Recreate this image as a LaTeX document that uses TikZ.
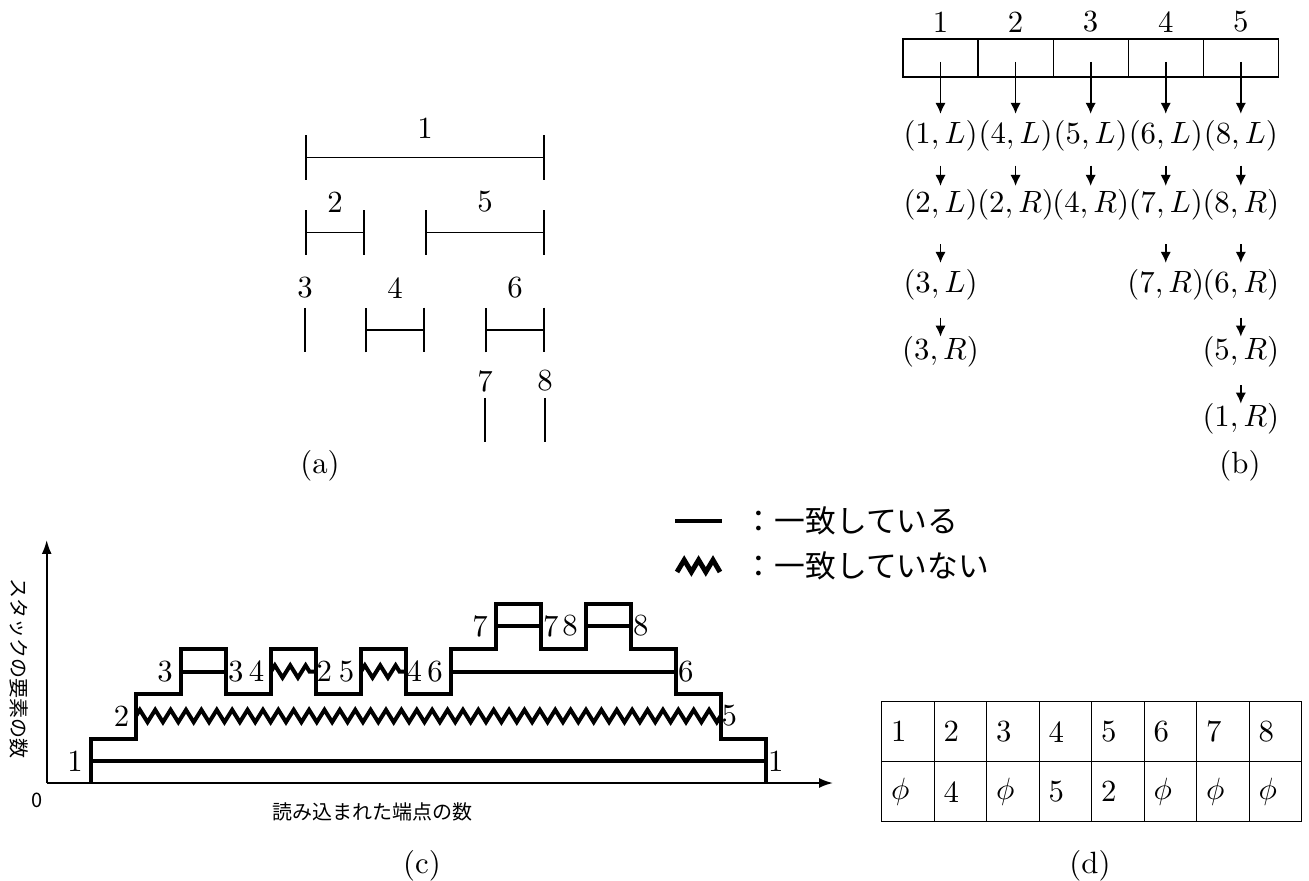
\documentclass[tikz,border=0pt]{standalone}
\usepackage{fontspec}
\newfontfamily\jpfont{Noto Sans CJK JP}
\usetikzlibrary{arrows.meta,positioning,decorations.pathmorphing}

\begin{document}
\begin{tikzpicture}[x=0.325pt, y=-0.325pt,
  seg/.style={{Bar[width=14.6pt]}-{Bar[width=14.6pt]}, line width=0.5pt},
  tickmark/.style={line width=0.5pt},
  cell/.style={draw, minimum width=24.4pt, minimum height=12.35pt,
    inner sep=0pt, outer sep=0pt},
  pair/.style={inner sep=2pt},
  arr/.style={-{Latex[length=3.6pt,width=3.4pt]}, line width=0.55pt},
  stack/.style={line width=1.3pt},
  match/.style={line width=1.3pt},
  nomatch/.style={line width=1.3pt, decorate,
    decoration={zigzag, segment length=5pt, amplitude=2pt}},
  axis/.style={-{Latex[length=4.5pt,width=3.2pt]}, line width=0.6pt},
  jp/.style={font=\jpfont},
  smalljp/.style={font=\jpfont\fontsize{6.5}{8}\selectfont},
  tcell/.style={draw, minimum width=17.06pt, minimum height=19.5pt,
    text width=11pt, align=left, inner xsep=3pt, inner ysep=0pt,
    outer sep=0pt},
  lbll/.style={left, inner sep=2pt},
  lblr/.style={right, inner sep=0pt}]
\useasboundingbox (0,0) rectangle (1309,881);

% (a) intervals
\draw[seg] (305,157.5) -- (545,157.5);
\node (a1) at (425,128) {1};
\draw[seg] (305,232.5) -- (365,232.5);
\node (a2) at (335,202) {2};
\draw[seg] (425,232.5) -- (545,232.5);
\node (a5) at (485,202) {5};
\draw[tickmark] (305,308) -- (305,352);
\node (a3) at (305,288) {3};
\draw[seg] (365,330) -- (425,330);
\node (a4) at (395,288) {4};
\draw[seg] (485,330) -- (545,330);
\node (a6) at (515,288) {6};
\draw[tickmark] (485,398) -- (485,442);
\node (a7) at (485,381) {7};
\draw[tickmark] (545,398) -- (545,442);
\node (a8) at (545,381) {8};
\node (capa) at (320,466) {(a)};

% (b) lists
\node[cell] (c1) at (940.5,58) {};
\node[cell, right=0pt of c1] (c2) {};
\node[cell, right=0pt of c2] (c3) {};
\node[cell, right=0pt of c3] (c4) {};
\node[cell, right=0pt of c4] (c5) {};
\node[above=2pt of c1, inner sep=0pt] (h1) {1};
\node[above=2pt of c2, inner sep=0pt] (h2) {2};
\node[above=2pt of c3, inner sep=0pt] (h3) {3};
\node[above=2pt of c4, inner sep=0pt] (h4) {4};
\node[above=2pt of c5, inner sep=0pt] (h5) {5};
\node[pair] (p11) at (c1 |- 0,136) {$(1,L)$};
\node[pair] (p12) at (c2 |- 0,136) {$(4,L)$};
\node[pair] (p13) at (c3 |- 0,136) {$(5,L)$};
\node[pair] (p14) at (c4 |- 0,136) {$(6,L)$};
\node[pair] (p15) at (c5 |- 0,136) {$(8,L)$};
\node[pair] (p21) at (c1 |- 0,205) {$(2,L)$};
\node[pair] (p22) at (c2 |- 0,205) {$(2,R)$};
\node[pair] (p23) at (c3 |- 0,205) {$(4,R)$};
\node[pair] (p24) at (c4 |- 0,205) {$(7,L)$};
\node[pair] (p25) at (c5 |- 0,205) {$(8,R)$};
\node[pair] (p31) at (c1 |- 0,285) {$(3,L)$};
\node[pair] (p34) at (c4 |- 0,285) {$(7,R)$};
\node[pair] (p35) at (c5 |- 0,285) {$(6,R)$};
\node[pair] (p41) at (c1 |- 0,352) {$(3,R)$};
\node[pair] (p45) at (c5 |- 0,352) {$(5,R)$};
\node[pair] (p55) at (c5 |- 0,419) {$(1,R)$};
\draw[arr, shorten <=1.3pt] (c1.center) -- (p11);
\draw[arr, shorten <=1.3pt] (c2.center) -- (p12);
\draw[arr, shorten <=1.3pt] (c3.center) -- (p13);
\draw[arr, shorten <=1.3pt] (c4.center) -- (p14);
\draw[arr, shorten <=1.3pt] (c5.center) -- (p15);
\draw[arr, shorten <=2.4pt, shorten >=-1pt] (p11) -- (p21);
\draw[arr, shorten <=2.4pt, shorten >=-1pt] (p12) -- (p22);
\draw[arr, shorten <=2.4pt, shorten >=-1pt] (p13) -- (p23);
\draw[arr, shorten <=2.4pt, shorten >=-1pt] (p14) -- (p24);
\draw[arr, shorten <=2.4pt, shorten >=-1pt] (p15) -- (p25);
\draw[arr, shorten <=5.5pt] (p21) -- (p31);
\draw[arr, shorten <=5.5pt] (p24) -- (p34);
\draw[arr, shorten <=5.5pt] (p25) -- (p35);
\draw[arr, shorten <=3.4pt, shorten >=-2.2pt] (p31) -- (p41);
\draw[arr, shorten <=3.4pt, shorten >=-2.2pt] (p35) -- (p45);
\draw[arr, shorten <=3.6pt, shorten >=-2.2pt] (p45) -- (p55);
\node (capb) at (1240,466) {(b)};

% legend
\coordinate (ka) at (675,521);
\coordinate (kb) at (722,521);
\draw[match, line width=1.6pt] (ka) -- (kb);
\node[jp, anchor=west] (k1) at (733,521) {：一致している};
\coordinate (kc) at (677,572);
\coordinate (kd) at (720,572);
\draw[line width=1.6pt] (kc) -- ++(7.2,-12) -- ++(7.2,12) -- ++(7.2,-12)
  -- ++(7.2,12) -- ++(7.2,-12) -- (kd);
\node[jp, anchor=west] (k2) at (733,566) {：一致していない};

% (c) stack size
\coordinate (o) at (46.7,783);
\draw[axis] (o) -- (46.7,540);
\draw[axis] (o) -- (833,783);
\node[smalljp] (zero) at (37,800) {0};
\node[smalljp] (xlab) at (372,812) {読み込まれた端点の数};
\node[smalljp, rotate=-90] (ylab) at (19,668) {スタックの要素の数};
\draw[stack] (91,783) |- (136,739) |- (181,694) |- (226,649) |- (271,694)
  |- (316,649) |- (361,694) |- (406,649) |- (451,694) |- (496,649)
  |- (541,604) |- (586,649) |- (631,604) |- (676,649) |- (721,694)
  |- (766,739) -- (766,783);
\draw[match] (91,761) node[lbll] (m1a) {1} -- (766,761) node[lblr] (m1b) {1};
\draw[nomatch] (136,716) -- (721,716);
\node[lbll] (m2a) at (136,716) {2};
\node[lblr] (m2b) at (721,716) {5};
\draw[match] (181,671.5) node[lbll] (m3a) {3} -- (226,671.5) node[lblr] (m3b) {3};
\draw[nomatch] (271,671.5) -- (316,671.5);
\node[lbll] (m4a) at (271,671.5) {4};
\node[lblr] (m4b) at (316,671.5) {2};
\draw[nomatch] (361,671.5) -- (406,671.5);
\node[lbll] (m5a) at (361,671.5) {5};
\node[lblr] (m5b) at (406,671.5) {4};
\draw[match] (451,671.5) node[lbll] (m6a) {6} -- (676,671.5) node[lblr] (m6b) {6};
\draw[match] (496,626) node[lbll] (m7a) {7} -- (541,626) node[lblr] (m7b) {7};
\draw[match] (586,626) node[lbll] (m8a) {8} -- (631,626) node[lblr] (m8b) {8};
\node (capc) at (422,866) {(c)};

% (d) table
\node[tcell] (t11) at (908,731.7) {1};
\node[tcell, right=0pt of t11] (t12) {2};
\node[tcell, right=0pt of t12] (t13) {3};
\node[tcell, right=0pt of t13] (t14) {4};
\node[tcell, right=0pt of t14] (t15) {5};
\node[tcell, right=0pt of t15] (t16) {6};
\node[tcell, right=0pt of t16] (t17) {7};
\node[tcell, right=0pt of t17] (t18) {8};
\node[tcell, below=0pt of t11] (t21) {$\phi$};
\node[tcell, right=0pt of t21] (t22) {4};
\node[tcell, right=0pt of t22] (t23) {$\phi$};
\node[tcell, right=0pt of t23] (t24) {5};
\node[tcell, right=0pt of t24] (t25) {2};
\node[tcell, right=0pt of t25] (t26) {$\phi$};
\node[tcell, right=0pt of t26] (t27) {$\phi$};
\node[tcell, right=0pt of t27] (t28) {$\phi$};
\node (capd) at (1090,866) {(d)};
\end{tikzpicture}
\end{document}
